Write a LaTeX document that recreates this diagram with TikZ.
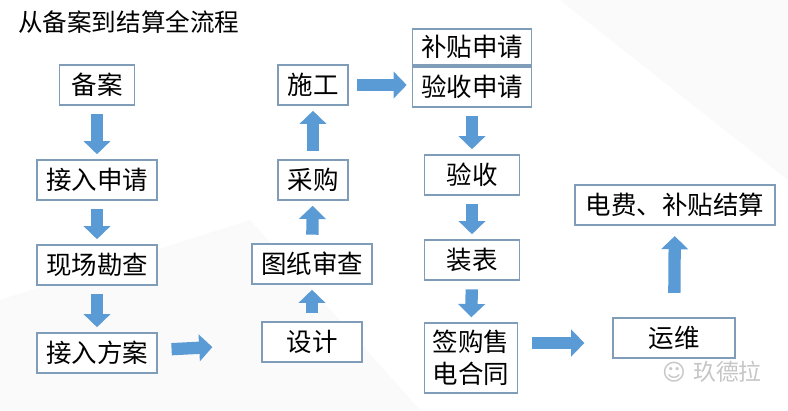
\documentclass[tikz,border=0pt]{standalone}
\usepackage{fontspec}
\setmainfont{Noto Sans CJK SC}
\usetikzlibrary{arrows.meta}
\definecolor{ab}{HTML}{5B9BD5}
\definecolor{bd}{HTML}{7F9DB9}
\begin{document}
\begin{tikzpicture}[x=0.02cm,y=-0.02cm,
 box/.style={draw=bd,line width=0.6pt,fill=white,inner sep=0pt,font=\fontsize{14.5}{17}\selectfont,align=center},
 ar/.style={draw=ab,line width=7pt,-{Triangle[width=15pt,length=7.5pt]},shorten <=5pt,shorten >=3pt}]
\fill[white] (0,0) rectangle (788,410);
\fill[gray!4] (0,300) -- (250,220) -- (420,410) -- (0,410) -- cycle;
\fill[gray!4] (560,0) -- (788,0) -- (788,180) -- cycle;
\node[anchor=west,font=\fontsize{14}{16}\selectfont] (t) at (12,22) {从备案到结算全流程};
\node[box,minimum width=1.5cm,minimum height=0.8cm] (ba) at (97,85) {备案};
\node[box,minimum width=2.4cm,minimum height=0.8cm] (jr) at (97,180) {接入申请};
\node[box,minimum width=2.4cm,minimum height=0.8cm] (xc) at (97,265) {现场勘查};
\node[box,minimum width=2.4cm,minimum height=0.8cm] (fa) at (97,353) {接入方案};
\node[box,minimum width=1.4cm,minimum height=0.8cm] (sg) at (313,85) {施工};
\node[box,minimum width=1.4cm,minimum height=0.8cm] (cg) at (313,180) {采购};
\node[box,minimum width=2.4cm,minimum height=0.8cm] (tz) at (312,264) {图纸审查};
\node[box,minimum width=2cm,minimum height=0.8cm] (sj) at (312,342) {设计};
\node[box,minimum width=2.38cm,minimum height=0.72cm] (bt) at (472,47) {补贴申请};
\node[box,minimum width=2.38cm,minimum height=0.8cm] (ys) at (472,87) {验收申请};
\node[box,minimum width=1.9cm,minimum height=0.8cm] (yy) at (472,175) {验收};
\node[box,minimum width=1.9cm,minimum height=0.8cm] (zb) at (472,260) {装表};
\node[box,minimum width=1.86cm,minimum height=1.4cm,font=\fontsize{14.5}{18}\selectfont] (qg) at (471,358) {签购售\\电合同};
\node[box,minimum width=4cm,minimum height=0.8cm] (df) at (675,205) {电费、补贴结算};
\node[box,minimum width=2.44cm,minimum height=0.8cm] (yw) at (674,338) {运维};
\node[text=gray!45,font=\fontsize{13}{15}\selectfont] (wm) at (712,372) {\fontspec{DejaVu Sans}☺\ \normalfont 玖德拉};
\draw[ar] (ba) -- (jr);
\draw[ar] (jr) -- (xc);
\draw[ar] (xc) -- (fa);
\draw[ar,shorten <=8pt,shorten >=28pt] (fa) -- (sj);
\draw[ar] (sj) -- (tz);
\draw[ar] (tz) -- (cg);
\draw[ar] (cg) -- (sg);
\draw[ar] (sg) -- (ys.west|-sg);
\draw[ar] (ys) -- (yy);
\draw[ar] (yy) -- (zb);
\draw[ar] (zb) -- (qg);
\path (qg.east|-yw.center) ++(0,5) coordinate (q1) (yw.west) ++(0,5) coordinate (q2);
\draw[ar,shorten <=8pt,shorten >=16pt] (q1) -- (q2);
\draw[ar,shorten <=14pt,shorten >=6pt] (yw) -- (df);
\end{tikzpicture}
\end{document}
